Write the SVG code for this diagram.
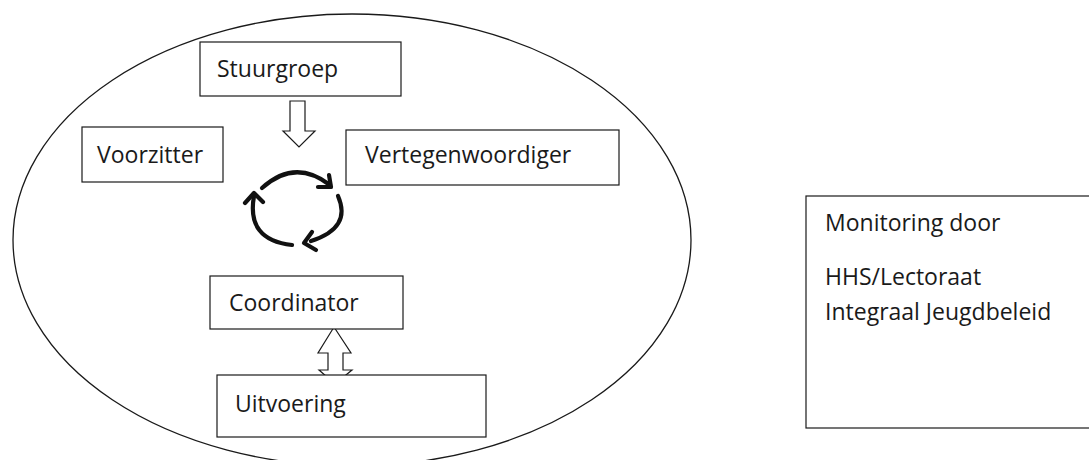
<svg xmlns="http://www.w3.org/2000/svg" width="1089" height="460" viewBox="0 0 1089 460">
  <style>
    .box { fill: #ffffff; stroke: #1a1a1a; stroke-width: 1.2; }
    .lbl { font-family: "Open Sans", "Noto Sans", "Liberation Sans", sans-serif; font-size: 23px; fill: #1a1a1a; }
    .hollow { fill: #ffffff; stroke: #1a1a1a; stroke-width: 1.2; stroke-linejoin: miter; }
    .cyc { fill: none; stroke: #111111; stroke-width: 4.2; stroke-linecap: round; stroke-linejoin: round; }
  </style>
  <rect x="0" y="0" width="1089" height="460" fill="#ffffff"/>

  <g id="boundary">
    <ellipse cx="352" cy="240" rx="339" ry="226" fill="none" stroke="#1a1a1a" stroke-width="1.3"/>
  </g>

  <g id="connectors">
    <polygon class="hollow" points="290,101 305,101 305,131 315,131 299,147 283,131 290,131"/>
    <polygon class="hollow" points="334,327 351,353 343,353 343,370 352,370 335,384 319,370 328,370 328,353 318,353"/>
    <g id="cycle">
      <path class="cyc" d="M262,188 Q295,158 330,185"/>
      <polyline class="cyc" points="329,175 331,187 318,187"/>
      <path class="cyc" d="M338,196 Q352,228 311,241"/>
      <polyline class="cyc" points="312,232 304,243 316,250"/>
      <path class="cyc" d="M292,245 Q246,240 254,196"/>
      <polyline class="cyc" points="245,203 254,193 263,202"/>
    </g>
  </g>

  <g id="stuurgroep">
    <rect class="box" x="200" y="42" width="201" height="54"/>
    <text class="lbl" x="217" y="77">Stuurgroep</text>
  </g>

  <g id="voorzitter">
    <rect class="box" x="82" y="127" width="141" height="55"/>
    <text class="lbl" x="97" y="163">Voorzitter</text>
  </g>

  <g id="vertegenwoordiger">
    <rect class="box" x="346" y="130" width="273" height="55"/>
    <text class="lbl" x="365" y="163">Vertegenwoordiger</text>
  </g>

  <g id="coordinator">
    <rect class="box" x="210" y="276" width="193" height="53"/>
    <text class="lbl" x="229" y="311">Coordinator</text>
  </g>

  <g id="uitvoering">
    <rect class="box" x="217" y="375" width="269" height="62"/>
    <text class="lbl" x="235" y="412">Uitvoering</text>
  </g>

  <g id="monitoring">
    <rect class="box" x="806" y="196" width="300" height="232"/>
    <text class="lbl" x="825" y="231">Monitoring door</text>
    <text class="lbl" x="825" y="285">HHS/Lectoraat</text>
    <text class="lbl" x="825" y="320">Integraal Jeugdbeleid</text>
  </g>
</svg>
